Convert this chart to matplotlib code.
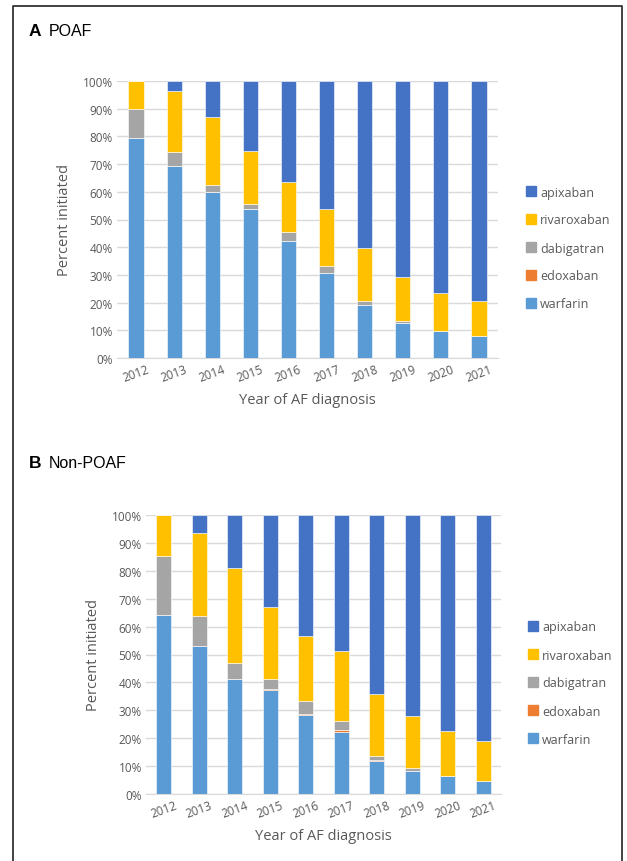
import matplotlib
matplotlib.use("Agg")
import matplotlib.pyplot as plt
from matplotlib.lines import Line2D
import numpy as np

years = ["2012", "2013", "2014", "2015", "2016", "2017", "2018", "2019", "2020", "2021"]
drugs = ["warfarin", "edoxaban", "dabigatran", "rivaroxaban", "apixaban"]

# Panel A: POAF (percent of initiations)
poaf_warfarin = [79.6, 69.2, 60.0, 53.9, 42.3, 30.8, 19.2, 12.7, 9.7, 8.0]
poaf_edoxaban = [0.0, 0.0, 0.0, 0.0, 0.0, 0.0, 0.0, 0.1, 0.1, 0.1]
poaf_dabigatran = [10.4, 5.3, 2.6, 1.7, 3.2, 2.4, 1.5, 0.5, 0.1, 0.0]
poaf_rivaroxaban = [10.0, 21.8, 24.5, 19.2, 18.1, 20.5, 19.1, 16.0, 13.4, 12.5]
poaf_apixaban = [0.0, 3.7, 12.9, 25.2, 36.4, 46.3, 60.2, 70.7, 76.7, 79.4]

# Panel B: Non-POAF
non_warfarin = [64.2, 53.0, 41.1, 37.2, 28.2, 22.4, 11.9, 8.1, 6.3, 4.5]
non_edoxaban = [0.0, 0.2, 0.1, 0.5, 0.4, 0.5, 0.2, 0.2, 0.1, 0.1]
non_dabigatran = [21.0, 10.5, 5.8, 3.4, 4.7, 3.1, 1.5, 1.0, 0.2, 0.2]
non_rivaroxaban = [14.8, 29.9, 33.9, 26.0, 23.5, 25.3, 22.1, 18.5, 16.0, 14.3]
non_apixaban = [0.0, 6.4, 19.1, 32.9, 43.2, 48.7, 64.3, 72.2, 77.4, 80.9]

colors = {"warfarin": "#5B9BD5", "edoxaban": "#ED7D31", "dabigatran": "#A5A5A5",
          "rivaroxaban": "#FFC000", "apixaban": "#4472C4"}

W, H = 627, 862
fig = plt.figure(figsize=(W / 100, H / 100), dpi=100)
plt.rcParams['font.family'] = ['Open Sans', 'DejaVu Sans']

def px_rect(x0, y0, x1, y1):
    return [x0 / W, 1 - y1 / H, (x1 - x0) / W, (y1 - y0) / H]

gray = "#595959"

def draw_panel(rect, series, bar_w, legend_xy):
    ax = fig.add_axes(rect)
    x = np.arange(len(years))
    bottom = np.zeros(len(years))
    handles = []
    for name in drugs:
        vals = np.array(series[name])
        ax.bar(x, vals, bar_w, bottom=bottom, color=colors[name],
               edgecolor="white", linewidth=0.4, zorder=3)
        bottom += vals
    ax.set_ylim(0, 100)
    ax.set_xlim(-0.5, len(years) - 0.5)
    ax.set_yticks(np.arange(0, 101, 10))
    ax.set_yticklabels([f"{v}%" for v in range(0, 101, 10)], fontsize=8.5, color=gray)
    ax.set_xticks(x)
    ax.set_xticklabels(years, rotation=20, fontsize=8.5, color=gray)
    ax.yaxis.grid(True, color="#D9D9D9", linewidth=1.0, zorder=0)
    for s in ["top", "right", "left"]:
        ax.spines[s].set_visible(False)
    ax.spines["bottom"].set_color("#D9D9D9")
    ax.tick_params(axis="both", length=0, pad=3)
    ax.set_ylabel("Percent initiated", fontsize=10.5, color=gray, labelpad=8)
    ax.set_xlabel("Year of AF diagnosis", fontsize=10.5, color=gray, labelpad=6)
    for name in drugs[::-1]:
        handles.append(plt.Rectangle((0, 0), 1, 1, color=colors[name], label=name))
    fig.legend(handles=handles, loc="center left", bbox_to_anchor=legend_xy,
               frameon=False, fontsize=9, labelcolor=gray, handlelength=0.8,
               handleheight=0.8, handletextpad=0.3, labelspacing=1.2)
    return ax

poaf = {"warfarin": poaf_warfarin, "edoxaban": poaf_edoxaban, "dabigatran": poaf_dabigatran,
        "rivaroxaban": poaf_rivaroxaban, "apixaban": poaf_apixaban}
non = {"warfarin": non_warfarin, "edoxaban": non_edoxaban, "dabigatran": non_dabigatran,
       "rivaroxaban": non_rivaroxaban, "apixaban": non_apixaban}

draw_panel(px_rect(117, 82, 498, 359), poaf, 0.40, (515 / W, 1 - 249 / H))
draw_panel(px_rect(146, 516, 501, 795), non, 0.42, (517 / W, 1 - 684 / H))

# panel titles
fig.text(29 / W, 1 - 32 / H, "A", fontsize=12.5, fontweight="bold", family="Liberation Sans", va="center")
fig.text(49 / W, 1 - 32 / H, "POAF", fontsize=11.5, family="Liberation Sans", va="center")
fig.text(29 / W, 1 - 464 / H, "B", fontsize=12.5, fontweight="bold", family="Liberation Sans", va="center")
fig.text(49 / W, 1 - 464 / H, "Non-POAF", fontsize=11.5, family="Liberation Sans", va="center")

# frame around the figure (open at the bottom)
fx = [13 / W, 13 / W, 622 / W, 622 / W]
fy = [0, 1 - 7 / H, 1 - 7 / H, 0]
fig.add_artist(Line2D(fx, fy, color="#333333", linewidth=1.3))

fig.savefig("out.png", dpi=100)
